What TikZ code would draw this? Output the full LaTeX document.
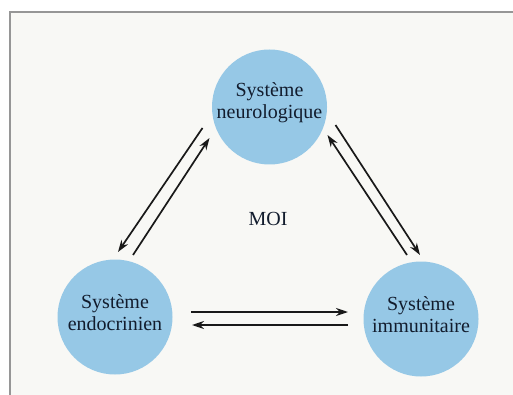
\documentclass[tikz,border=0pt]{standalone}
\usepackage{fontspec}
\setmainfont{Liberation Serif}
\usetikzlibrary{arrows.meta,calc}
\definecolor{bubble}{RGB}{150,200,230}
\definecolor{ink}{RGB}{18,28,45}
\definecolor{paper}{RGB}{248,248,245}
\definecolor{frame}{RGB}{150,150,150}
\tikzset{
  sys/.style={circle,fill=bubble,minimum size=115pt,inner sep=0pt},
  lbl/.style={text=ink,align=center,font=\fontsize{20}{22}\selectfont},
  arr/.style={line width=1.7pt,draw=black!90,-{Stealth[length=12pt,width=8pt]}}
}
\begin{document}
\begin{tikzpicture}[x=1pt,y=-1pt]
\useasboundingbox (0,0) rectangle (513,395);
\fill[white] (0,0) rectangle (513,395);
\fill[paper] (10,12) rectangle (513,395);
\draw[frame,line width=1.5pt] (10,395) -- (10,12) -- (513,12);
\node[sys] (N) at (269.5,107) {};
\node[sys] (E) at (115,317) {};
\node[sys] (I) at (421,319) {};
\node[lbl] (Nt) at ($(N)+(0,-4)$) {Système\\neurologique};
\node[lbl] (Et) at ($(E)+(0,-4)$) {Système\\endocrinien};
\node[lbl] (It) at ($(I)+(0,-4)$) {Système\\immunitaire};
\node[lbl] (moi) at (268,219) {MOI};
\draw[arr] ($(N)+(-67,21)$) -- ($(E)+(3,-65)$);
\draw[arr] ($(E)+(18,-62)$) -- ($(N)+(-60,31)$);
\draw[arr] ($(N)+(66,18)$) -- ($(I)+(-1,-64)$);
\draw[arr] ($(I)+(-14,-64)$) -- ($(N)+(58,28)$);
\draw[arr] ($(E)+(76,-5)$) -- ($(I)+(-73,-7)$);
\draw[arr] ($(I)+(-73,6)$) -- ($(E)+(77,8)$);
\end{tikzpicture}
\end{document}
